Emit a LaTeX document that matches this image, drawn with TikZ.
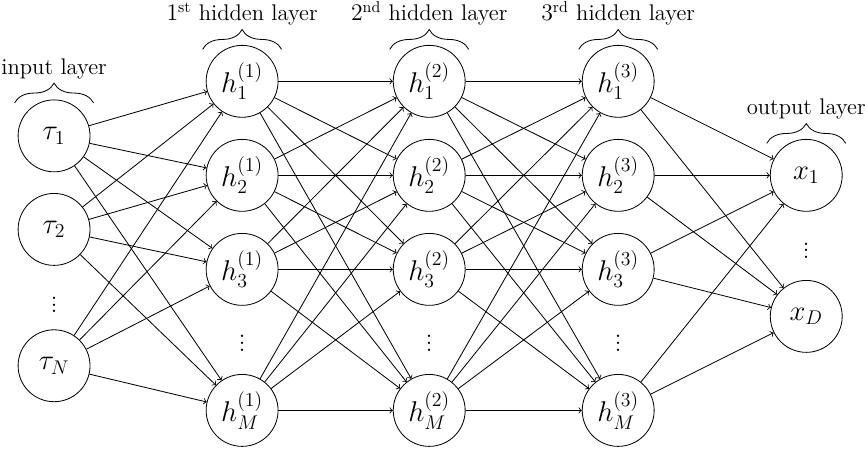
\documentclass[tikz,border=0pt]{standalone}
\usepackage{amsmath}
\usepackage{amssymb}
\usetikzlibrary{calc}
\usetikzlibrary{decorations.pathreplacing}
\tikzset{
	neuronstyle/.style={circle,draw=black,fill=white,minimum size=1.53cm,inner sep=0pt,font=\fontsize{17.5}{21}\selectfont},
	dotsstyle/.style={rectangle,inner sep=0pt,font=\fontsize{14.5}{17}\selectfont},
	bracestyle/.style={decorate,decoration={brace,amplitude=12pt}},
	labelstyle/.style={midway,above=11pt,font=\fontsize{13.7}{16.4}\selectfont}
}

\begin{document}
\begin{tikzpicture}[line width=0.5pt]
		\useasboundingbox (0,0) rectangle (18.40,-9.553);
		% input layer
		\node[neuronstyle] (t1) at (1.15,-2.89) {$\tau_1$};
		\node[neuronstyle] (t2) at (1.15,-4.88) {$\tau_2$};
		\node[dotsstyle] (td) at (1.15,-6.38) {$\vdots$};
		\node[neuronstyle] (tn) at (1.15,-7.78) {$\tau_N$};
		% 1st hidden layer
		\node[neuronstyle] (h11) at (5.15,-1.73) {$h_1^{(1)}$};
		\node[neuronstyle] (h12) at (5.15,-3.73) {$h_2^{(1)}$};
		\node[neuronstyle] (h13) at (5.15,-5.73) {$h_3^{(1)}$};
		\node[dotsstyle] (h1d) at (5.15,-7.2) {$\vdots$};
		\node[neuronstyle] (h1m) at (5.15,-8.73) {$h_M^{(1)}$};
		% 2nd hidden layer
		\node[neuronstyle] (h21) at (9.13,-1.73) {$h_1^{(2)}$};
		\node[neuronstyle] (h22) at (9.13,-3.73) {$h_2^{(2)}$};
		\node[neuronstyle] (h23) at (9.13,-5.73) {$h_3^{(2)}$};
		\node[dotsstyle] (h2d) at (9.13,-7.2) {$\vdots$};
		\node[neuronstyle] (h2m) at (9.13,-8.73) {$h_M^{(2)}$};
		% 3rd hidden layer
		\node[neuronstyle] (h31) at (13.15,-1.73) {$h_1^{(3)}$};
		\node[neuronstyle] (h32) at (13.15,-3.73) {$h_2^{(3)}$};
		\node[neuronstyle] (h33) at (13.15,-5.73) {$h_3^{(3)}$};
		\node[dotsstyle] (h3d) at (13.15,-7.2) {$\vdots$};
		\node[neuronstyle] (h3m) at (13.15,-8.73) {$h_M^{(3)}$};
		% output layer
		\node[neuronstyle] (x1) at (17.15,-3.73) {$x_1$};
		\node[dotsstyle] (xd) at (17.15,-5.23) {$\vdots$};
		\node[neuronstyle] (xD) at (17.15,-6.73) {$x_D$};
		% braces
		\draw[bracestyle] ($(t1)+(-0.84,0.70)$)--($(t1)+(0.84,0.70)$) node[labelstyle] {input layer};
		\draw[bracestyle] ($(h11)+(-0.84,0.68)$)--($(h11)+(0.84,0.68)$) node[labelstyle] {$1^{\text{st}}$ hidden layer};
		\draw[bracestyle] ($(h21)+(-0.84,0.68)$)--($(h21)+(0.84,0.68)$) node[labelstyle] {$2^{\text{nd}}$ hidden layer};
		\draw[bracestyle] ($(h31)+(-0.84,0.68)$)--($(h31)+(0.84,0.68)$) node[labelstyle] {$3^{\text{rd}}$ hidden layer};
		\draw[bracestyle] ($(x1)+(-0.84,0.68)$)--($(x1)+(0.84,0.68)$) node[labelstyle] {output layer};
		% input -> 1st hidden
		\draw[->] (t1)--(h11);
		\draw[->] (t1)--(h12);
		\draw[->] (t1)--(h13);
		\draw[->] (t1)--(h1m);
		\draw[->] (t2)--(h11);
		\draw[->] (t2)--(h12);
		\draw[->] (t2)--(h13);
		\draw[->] (t2)--(h1m);
		\draw[->] (tn)--(h11);
		\draw[->] (tn)--(h12);
		\draw[->] (tn)--(h13);
		\draw[->] (tn)--(h1m);
		% 1st -> 2nd hidden
		\draw[->] (h11)--(h21);
		\draw[->] (h11)--(h22);
		\draw[->] (h11)--(h23);
		\draw[->] (h11)--(h2m);
		\draw[->] (h12)--(h21);
		\draw[->] (h12)--(h22);
		\draw[->] (h12)--(h23);
		\draw[->] (h12)--(h2m);
		\draw[->] (h13)--(h21);
		\draw[->] (h13)--(h22);
		\draw[->] (h13)--(h23);
		\draw[->] (h13)--(h2m);
		\draw[->] (h1m)--(h21);
		\draw[->] (h1m)--(h22);
		\draw[->] (h1m)--(h23);
		\draw[->] (h1m)--(h2m);
		% 2nd -> 3rd hidden
		\draw[->] (h21)--(h31);
		\draw[->] (h21)--(h32);
		\draw[->] (h21)--(h33);
		\draw[->] (h21)--(h3m);
		\draw[->] (h22)--(h31);
		\draw[->] (h22)--(h32);
		\draw[->] (h22)--(h33);
		\draw[->] (h22)--(h3m);
		\draw[->] (h23)--(h31);
		\draw[->] (h23)--(h32);
		\draw[->] (h23)--(h33);
		\draw[->] (h23)--(h3m);
		\draw[->] (h2m)--(h31);
		\draw[->] (h2m)--(h32);
		\draw[->] (h2m)--(h33);
		\draw[->] (h2m)--(h3m);
		% 3rd hidden -> output
		\draw[->] (h31)--(x1);
		\draw[->] (h31)--(xD);
		\draw[->] (h32)--(x1);
		\draw[->] (h32)--(xD);
		\draw[->] (h33)--(x1);
		\draw[->] (h33)--(xD);
		\draw[->] (h3m)--(x1);
		\draw[->] (h3m)--(xD);
\end{tikzpicture}
\end{document}
